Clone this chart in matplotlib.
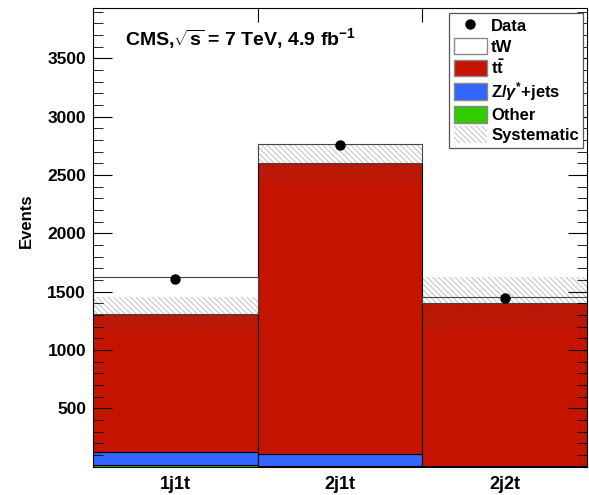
import numpy as np
import matplotlib
matplotlib.use('Agg')
from matplotlib import pyplot as plt
from matplotlib.patches import Patch
from matplotlib.lines import Line2D
from matplotlib.ticker import MultipleLocator

plt.rcParams['font.family'] = ['Liberation Sans', 'DejaVu Sans']
plt.rcParams['font.weight'] = 'bold'
plt.rcParams['mathtext.fontset'] = 'custom'
plt.rcParams['mathtext.rm'] = 'Liberation Sans:bold'
plt.rcParams['mathtext.it'] = 'Liberation Sans:bold:italic'
plt.rcParams['mathtext.bf'] = 'Liberation Sans:bold'
plt.rcParams['hatch.linewidth'] = 0.7

# data
bins = ['1j1t', '2j1t', '2j2t']
other = [15, 8, 3]
zjets = [113, 102, 4]
ttbar = [1180, 2494, 1397]
tw = [319, 166, 52]
data = [1605, 2762, 1442]
syst_lo = [1170, 2428, 1188]
syst_hi = [1456, 2770, 1627]

x = np.arange(len(bins))
hatch_col = (0.3, 0.3, 0.3, 0.35)
hatch = '\\\\\\\\\\\\'

fig = plt.figure(figsize=(5.89, 4.95), dpi=100)
ax = fig.add_axes([0.158, 0.0574, 0.8386, 0.9258])

b0 = np.zeros(3)
ax.bar(x, other, 1.0, bottom=b0, color='#33cc00', edgecolor='black', lw=0.8)
b0 = b0 + other
ax.bar(x, zjets, 1.0, bottom=b0, color='#3366ff', edgecolor='black', lw=0.8)
b0 = b0 + zjets
ax.bar(x, ttbar, 1.0, bottom=b0, color='#c41400', edgecolor='black', lw=0.8)
b0 = b0 + ttbar
ax.bar(x, tw, 1.0, bottom=b0, color='white', edgecolor='#444444', lw=0.8)

# systematic band
lo = np.array(syst_lo)
hi = np.array(syst_hi)
ax.bar(x, hi - lo, 1.0, bottom=lo, color='none', edgecolor=hatch_col, lw=0, hatch=hatch)

ax.plot(x, data, 'o', color='black', ms=6.5, zorder=5)

ax.set_xlim(-0.5, 2.5)
ax.set_ylim(0, 3930)

ax.set_xticks([0.5, 1.5])
ax.set_xticklabels([])
ax.set_xticks(x, minor=True)
ax.set_xticklabels(bins, minor=True, fontsize=13, fontweight='bold')
ax.tick_params(axis='x', which='major', direction='in', length=10, top=True, bottom=False)
ax.tick_params(axis='x', which='minor', length=0, pad=7)

ax.set_yticks(np.arange(500, 3501, 500))
ax.yaxis.set_minor_locator(MultipleLocator(100))
ax.tick_params(axis='y', which='major', direction='in', length=14, right=True, labelsize=12.5, pad=5)
ax.tick_params(axis='y', which='minor', direction='in', length=7, right=True)
for lab in ax.get_yticklabels():
    lab.set_fontweight('bold')

ax.set_ylabel('Events', fontsize=12, fontweight='bold')
ax.yaxis.set_label_coords(-0.12, 0.536)

ax.text(0.065, 0.935, r'CMS,$\sqrt{\mathrm{s}}$ = 7 TeV, 4.9 fb$^{-1}$', transform=ax.transAxes,
        fontsize=14, fontweight='bold', va='center', ha='left')

handles = [
    Line2D([], [], marker='o', color='black', ls='none', ms=6.5),
    Patch(facecolor='white', edgecolor='#888888'),
    Patch(facecolor='#c41400', edgecolor='#888888'),
    Patch(facecolor='#3366ff', edgecolor='#888888'),
    Patch(facecolor='#33cc00', edgecolor='#888888'),
    Patch(facecolor='white', edgecolor=hatch_col, lw=0, hatch=hatch),
]
labels = ['Data', 'tW', r't$\bar{\mathrm{t}}$', r'Z/$\mathit{\gamma}^{*}$+jets', 'Other', 'Systematic']
leg = ax.legend(handles, labels, loc='upper right', bbox_to_anchor=(0.992, 0.989),
                fancybox=False, edgecolor='#555555', framealpha=1,
                prop={'weight': 'bold', 'size': 12}, labelspacing=0.2,
                handlelength=2.0, handleheight=1.15, handletextpad=0.25,
                borderpad=0.25, borderaxespad=0)
leg.get_frame().set_linewidth(0.9)

plt.savefig('out.png', dpi=100)
